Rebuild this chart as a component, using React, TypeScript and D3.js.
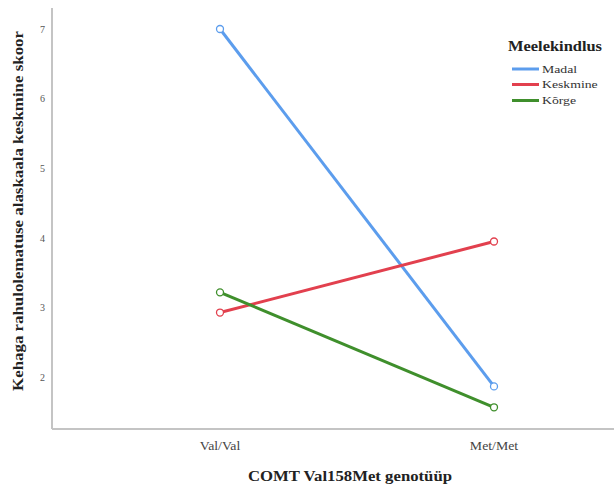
import React from "react";
import * as d3 from "d3";

const categories = ["Val/Val", "Met/Met"];
const seriesNames = ["Madal", "Keskmine", "Kõrge"];
const madal = [7.0, 1.87];
const keskmine = [2.93, 3.95];
const korge = [3.22, 1.57];
const yTicks = [2, 3, 4, 5, 6, 7];
const colors = ["#5c9ded", "#e2404e", "#3f8f2c"];

export default function App() {
  const W = 614, H = 486;
  const x = d3.scalePoint<string>().domain(categories).range([220, 494]);
  const y = d3.scaleLinear().domain([1, 7]).range([447, 29]);
  const data = [madal, keskmine, korge];
  const line = d3.line<number>().x((_, i) => x(categories[i])!).y((d) => y(d));
  const serif = "'Liberation Serif', 'Times New Roman', serif";
  const legY = [69, 84.5, 100.5];
  return (
    <svg width={W} height={H} style={{ position: "absolute", left: 0, top: 0, background: "#fff" }}>
      <line x1={52} y1={8} x2={52} y2={429} stroke="#c4c4c4" strokeWidth={2} />
      <line x1={52} y1={429} x2={614} y2={429} stroke="#c4c4c4" strokeWidth={2} />
      {yTicks.map((t) => (
        <text key={t} x={45} y={y(t)} dy="0.35em" textAnchor="end" fontFamily={serif} fontSize={10} fill="#555">
          {t}
        </text>
      ))}
      {categories.map((c) => (
        <g key={c} transform={`translate(${x(c)},446) scale(1.15,1)`}>
          <text x={0} y={0} dy="0.35em" textAnchor="middle" fontFamily={serif} fontSize={12} fill="#444">
            {c}
          </text>
        </g>
      ))}
      <text
        transform={`translate(18,211) rotate(-90)`}
        textAnchor="middle"
        dy="0.35em"
        fontFamily={serif}
        fontWeight="bold"
        fontSize={15}
        fill="#222"
        textLength={360}
        lengthAdjust="spacingAndGlyphs"
      >
        Kehaga rahulolematuse alaskaala keskmine skoor
      </text>
      <text
        x={350}
        y={476}
        textAnchor="middle"
        dy="0.35em"
        fontFamily={serif}
        fontWeight="bold"
        fontSize={15}
        fill="#222"
        textLength={204}
        lengthAdjust="spacingAndGlyphs"
      >
        COMT Val158Met genotüüp
      </text>
      {data.map((d, k) => (
        <g key={k}>
          <path d={line(d)!} fill="none" stroke={colors[k]} strokeWidth={3} />
          {d.map((v, i) => (
            <circle key={i} cx={x(categories[i])} cy={y(v)} r={3.5} fill="#fff" stroke={colors[k]} strokeWidth={1.3} />
          ))}
        </g>
      ))}
      <text
        x={508}
        y={46}
        dy="0.35em"
        fontFamily={serif}
        fontWeight="bold"
        fontSize={14}
        fill="#222"
        textLength={94}
        lengthAdjust="spacingAndGlyphs"
      >
        Meelekindlus
      </text>
      {seriesNames.map((s, k) => (
        <g key={s}>
          <line x1={512} x2={539} y1={legY[k]} y2={legY[k]} stroke={colors[k]} strokeWidth={3} />
          <g transform={`translate(542,${legY[k]}) scale(1.25,1)`}>
            <text x={0} y={0} dy="0.35em" fontFamily={serif} fontSize={11} fill="#333">
              {s}
            </text>
          </g>
        </g>
      ))}
    </svg>
  );
}
